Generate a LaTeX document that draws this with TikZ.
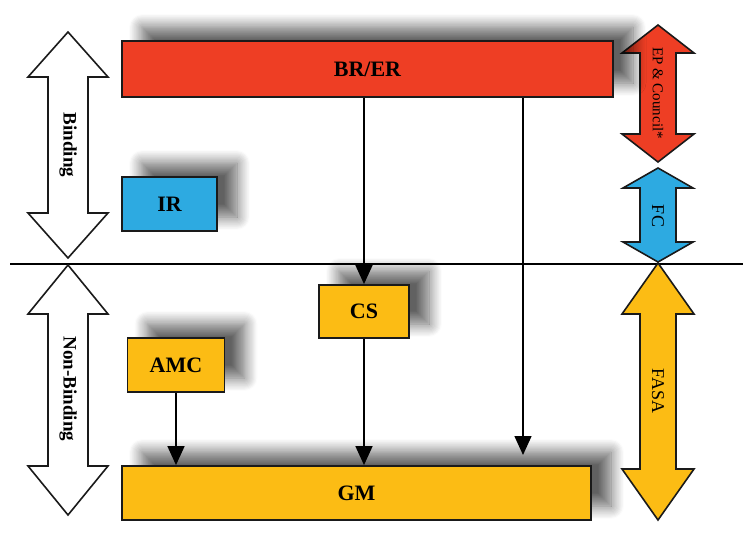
\documentclass[tikz,border=0pt]{standalone}
\usepackage{fontspec}
\setmainfont{Liberation Serif}
\usetikzlibrary{arrows.meta,shadows.blur}
\definecolor{bred}{HTML}{EE3E24}
\definecolor{bblue}{HTML}{2DAAE1}
\definecolor{byellow}{HTML}{FCBC14}
\definecolor{edge}{HTML}{1A1A1A}
\tikzset{
  box/.style={draw=edge, line width=1.8pt, inner sep=0pt,
    font=\bfseries\fontsize{22}{24}\selectfont,
    blur shadow={shadow xshift=20pt, shadow yshift=14pt, shadow blur radius=13pt, shadow opacity=62, shadow blur steps=12}},
  conn/.style={line width=1.5pt, -{Triangle[width=17pt,length=19pt]}},
  dbl/.style={draw=edge, line width=1.6pt, line join=miter},
  blab/.style={rotate=-90, inner sep=0pt, font=\bfseries\fontsize{19}{21}\selectfont},
  rlab/.style={rotate=-90, inner sep=0pt, font=\fontsize{15}{17}\selectfont},
  rlabb/.style={rlab, font=\fontsize{18}{20}\selectfont},
  pics/dblarrow/.style n args={5}{code={
    \draw[dbl, fill=#5] (0,0) -- (-#3,#2) -- (-#4,#2) -- (-#4,#1-#2) -- (-#3,#1-#2)
      -- (0,#1) -- (#3,#1-#2) -- (#4,#1-#2) -- (#4,#2) -- (#3,#2) -- cycle;
  }}
}
\begin{document}
\begin{tikzpicture}[x=1pt,y=-1pt]
\path[use as bounding box] (0,0) rectangle (750,539);

% divider
\coordinate (divL) at (10,264);
\coordinate (divR) at (743,264);
\draw[line width=1.5pt] (divL) -- (divR);

% double arrows
\pic at (68,32) {dblarrow={226}{45}{40}{20}{white}};
\pic at (68,265) {dblarrow={250}{49}{40}{20}{white}};
\pic at (658,25) {dblarrow={137}{28}{36}{18}{bred}};
\pic at (658,168) {dblarrow={94}{20}{35}{18}{bblue}};
\pic at (658,263) {dblarrow={257}{51}{36}{18}{byellow}};

\node[blab] (bind) at (68,145) {Binding};
\node[blab] (nbind) at (68,389) {Non-Binding};
\node[rlab] (ep) at (658,93) {EP \& Council*};
\node[rlabb] (fc) at (658,216) {FC};
\node[rlabb] (fasa) at (658,391) {FASA};

% boxes
\node[box, fill=bred, minimum width=491pt, minimum height=56pt] (BRER) at (367.5,69) {BR/ER};
\node[box, fill=bblue, minimum width=95pt, minimum height=54pt] (IR) at (169.5,204) {IR};
\node[box, fill=byellow, minimum width=90pt, minimum height=53pt] (CS) at (364,311.5) {CS};
\node[box, fill=byellow, minimum width=97pt, minimum height=54pt] (AMC) at (176,365) {AMC};
\node[box, fill=byellow, minimum width=469pt, minimum height=54pt] (GM) at (356.5,493) {GM};

% connectors
\coordinate (gmtip) at (523,455);
\draw[conn] (CS.north |- BRER.south) -- (CS.north);
\draw[conn] (gmtip |- BRER.south) -- (gmtip);
\draw[conn] (CS.south) -- (CS.south |- GM.north);
\draw[conn] (AMC.south) -- (AMC.south |- GM.north);
\end{tikzpicture}
\end{document}
